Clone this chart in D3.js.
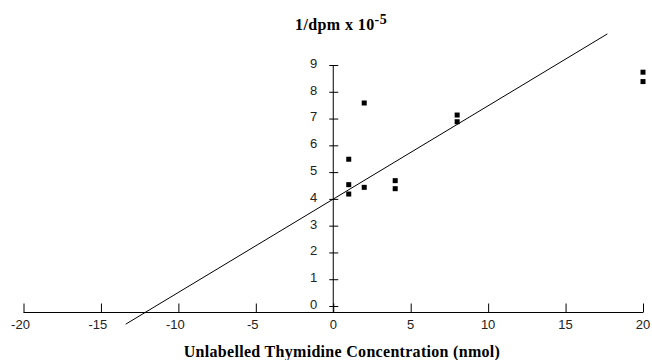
<!DOCTYPE html>
<html>
<head>
<meta charset="utf-8">
<script src="https://cdn.jsdelivr.net/npm/d3@7"></script>
<style>
    body { margin: 0; background: #ffffff; }
    svg { display: block; }
</style>
</head>
<body>
<svg id="chart" width="652" height="360"></svg>
<script>
// data
const concX = [1, 1, 1, 2, 2, 4, 4, 8, 8, 20, 20];
const invDpm = [5.5, 4.55, 4.2, 7.6, 4.45, 4.7, 4.4, 7.15, 6.9, 8.75, 8.4];
const fitX = [-13.4, 17.7];
const fitY = [-0.66, 10.18];
const xTicks = [-20, -15, -10, -5, 0, 5, 10, 15, 20];
const yTicks = [0, 1, 2, 3, 4, 5, 6, 7, 8, 9];

const svg = d3.select("#chart");

const x = d3.scaleLinear().domain([-20, 20]).range([23.5, 643]);
const y = d3.scaleLinear().domain([0, 9]).range([306.5, 65.5]);

// x axis sits a little below the y = 0 tick, as in the original
const axisY = y(0) + 6;

// x axis: line with ticks pointing up
svg.append("g")
    .attr("transform", `translate(0,${axisY})`)
    .call(d3.axisTop(x).tickValues(xTicks).tickSize(9).tickFormat(""))
    .call(g => g.select(".domain").attr("d", `M${x(-20)},0H${x(20)}`))
    .call(g => g.selectAll("line, path").attr("stroke", "#000").attr("stroke-width", 1));

svg.append("g")
    .selectAll("text")
    .data(xTicks)
    .join("text")
    .attr("x", d => x(d) - (d < 0 ? 3 : 0))
    .attr("y", axisY + 13)
    .attr("text-anchor", "middle")
    .attr("dominant-baseline", "middle")
    .attr("font-family", "Liberation Sans, Arial, sans-serif")
    .attr("font-size", 13)
    .attr("fill", "#222")
    .text(d => d);

// y axis: vertical line with cross ticks
svg.append("line")
    .attr("x1", x(0)).attr("x2", x(0))
    .attr("y1", y(9)).attr("y2", axisY)
    .attr("stroke", "#000");

svg.append("g")
    .selectAll("line")
    .data(yTicks)
    .join("line")
    .attr("x1", x(0) - 4).attr("x2", x(0) + 5)
    .attr("y1", d => y(d)).attr("y2", d => y(d))
    .attr("stroke", "#000");

svg.append("g")
    .selectAll("text")
    .data(yTicks)
    .join("text")
    .attr("x", x(0) - 16)
    .attr("y", d => y(d) - 1)
    .attr("text-anchor", "end")
    .attr("dominant-baseline", "middle")
    .attr("font-family", "Liberation Sans, Arial, sans-serif")
    .attr("font-size", 13)
    .attr("fill", "#222")
    .text(d => d);

// fitted line
const line = d3.line().x(d => x(d[0])).y(d => y(d[1]));
svg.append("path")
    .datum(d3.zip(fitX, fitY))
    .attr("d", line)
    .attr("fill", "none")
    .attr("stroke", "#000")
    .attr("stroke-width", 1);

// points
svg.append("g")
    .selectAll("rect")
    .data(d3.zip(concX, invDpm))
    .join("rect")
    .attr("x", d => x(d[0]) - 2.5)
    .attr("y", d => y(d[1]) - 2.5)
    .attr("width", 5)
    .attr("height", 5)
    .attr("fill", "#000");

// titles
const yTitle = svg.append("text")
    .attr("x", 295)
    .attr("y", 30)
    .attr("font-family", "Liberation Serif, Times New Roman, serif")
    .attr("font-weight", "bold")
    .attr("font-size", 16)
    .attr("letter-spacing", 0.4)
    .attr("fill", "#000");
yTitle.append("tspan").text("1/dpm x 10");
yTitle.append("tspan").attr("dy", -6).attr("font-size", 14).text("-5");

svg.append("text")
    .attr("x", 342)
    .attr("y", 357)
    .attr("text-anchor", "middle")
    .attr("font-family", "Liberation Serif, Times New Roman, serif")
    .attr("font-weight", "bold")
    .attr("font-size", 16)
    .attr("letter-spacing", 0.3)
    .attr("fill", "#000")
    .text("Unlabelled Thymidine Concentration (nmol)");
</script>
</body>
</html>
